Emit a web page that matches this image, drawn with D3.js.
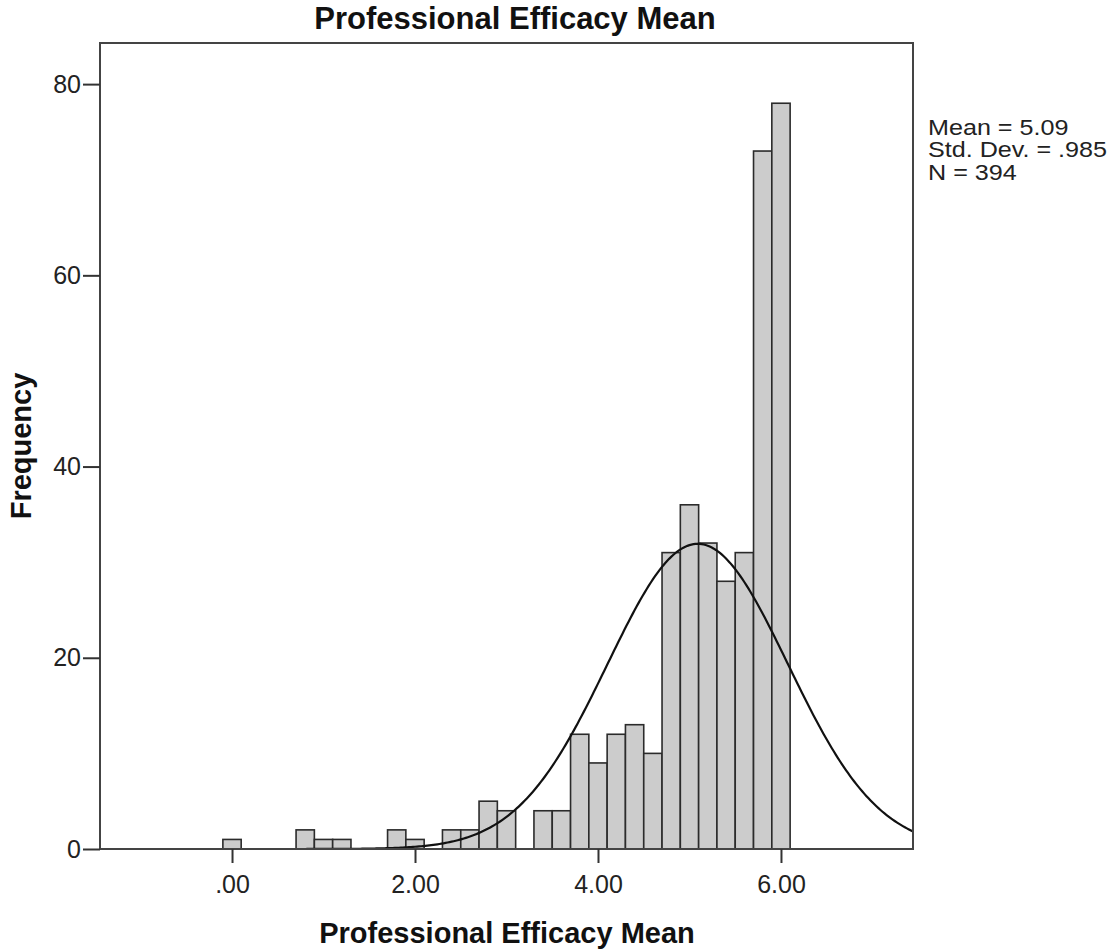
<!DOCTYPE html>
<html>
<head>
<meta charset="utf-8">
<script src="https://cdn.jsdelivr.net/npm/d3@7"></script>
<style>
  html, body { margin: 0; padding: 0; background: #fff; }
  svg { display: block; font-family: "Liberation Sans", Arial, sans-serif; }
</style>
</head>
<body>
<svg id="chart" width="1119" height="951"></svg>
<script>
// ---- Data ----
const binCenters = [0.0, 0.8, 1.0, 1.2, 1.8, 2.0, 2.4, 2.6, 2.8, 3.0, 3.4, 3.6, 3.8, 4.0, 4.2, 4.4, 4.6, 4.8, 5.0, 5.2, 5.4, 5.6, 5.8, 6.0];
const counts     = [1,   2,   1,   1,   2,   1,   2,   2,   5,   4,   4,   4,   12,  9,   12,  13,  10,  31,  36,  32,  28,  31,  73,  78];
const binWidth = 0.2;
const xTickValues = [0, 2, 4, 6];
const xTickLabels = [".00", "2.00", "4.00", "6.00"];
const yTickValues = [0, 20, 40, 60, 80];
const statLabels = ["Mean = 5.09", "Std. Dev. = .985", "N = 394"];
const mean = 5.09, sd = 0.985, n = 394;
const titleText = "Professional Efficacy Mean";
const xLabelText = "Professional Efficacy Mean";
const yLabelText = "Frequency";

// ---- Layout ----
const L = 100, T = 43, R = 913, B = 849;
const svg = d3.select("#chart");

const x = d3.scaleLinear().domain([-1.443, 7.443]).range([L, R]);
const y = d3.scaleLinear().domain([0, 84.3]).range([B, T]);

// bars
const bins = binCenters.map((c, i) => ({ x0: c - binWidth / 2, x1: c + binWidth / 2, v: counts[i] }));
svg.append("g").selectAll("rect").data(bins).join("rect")
  .attr("x", d => x(d.x0))
  .attr("y", d => y(d.v))
  .attr("width", d => x(d.x1) - x(d.x0))
  .attr("height", d => y(0) - y(d.v))
  .attr("fill", "#cccccc")
  .attr("stroke", "#2b2b2b")
  .attr("stroke-width", 1.6);

// normal curve
const pts = d3.range(0, 401).map(i => {
  const xv = x.domain()[0] + (x.domain()[1] - x.domain()[0]) * i / 400;
  const z = (xv - mean) / sd;
  return [xv, n * binWidth * Math.exp(-0.5 * z * z) / (sd * Math.sqrt(2 * Math.PI))];
});
svg.append("path")
  .datum(pts)
  .attr("fill", "none")
  .attr("stroke", "#111")
  .attr("stroke-width", 2.2)
  .attr("d", d3.line().x(d => x(d[0])).y(d => y(d[1])));

// frame
svg.append("rect")
  .attr("x", L).attr("y", T).attr("width", R - L).attr("height", B - T)
  .attr("fill", "none").attr("stroke", "#444").attr("stroke-width", 2);

// axes
const xAxis = d3.axisBottom(x).tickValues(xTickValues)
  .tickFormat((d, i) => xTickLabels[i]).tickSize(14).tickPadding(12);
const gx = svg.append("g").attr("transform", `translate(0,${B})`).call(xAxis);
gx.select(".domain").remove();
gx.selectAll("line").attr("stroke", "#333").attr("stroke-width", 2);
gx.selectAll("text").attr("font-size", 25).attr("fill", "#222")
  .attr("font-family", "Liberation Sans, Arial, sans-serif");

const yAxis = d3.axisLeft(y).tickValues(yTickValues).tickSize(17).tickPadding(2);
const gy = svg.append("g").attr("transform", `translate(${L},0)`).call(yAxis);
gy.select(".domain").remove();
gy.selectAll("line").attr("stroke", "#333").attr("stroke-width", 2);
gy.selectAll("text").attr("font-size", 25).attr("fill", "#222")
  .attr("font-family", "Liberation Sans, Arial, sans-serif");

// title & labels
svg.append("text").attr("x", 515).attr("y", 29).attr("text-anchor", "middle")
  .attr("font-size", 31).attr("font-weight", "bold").attr("fill", "#111").text(titleText);
svg.append("text").attr("x", 507).attr("y", 943).attr("text-anchor", "middle")
  .attr("font-size", 29).attr("font-weight", "bold").attr("fill", "#111").text(xLabelText);
svg.append("text").attr("transform", "translate(31,446) rotate(-90)").attr("text-anchor", "middle")
  .attr("font-size", 29).attr("font-weight", "bold").attr("fill", "#111").text(yLabelText);

// stats (slightly stretched horizontally, like the reference)
svg.append("g").attr("transform", "translate(928,0) scale(1.17,1)")
  .selectAll("text").data(statLabels).join("text")
  .attr("x", 0).attr("y", (d, i) => 135 + i * 22.5)
  .attr("font-size", 21.5).attr("fill", "#222").text(d => d);
</script>
</body>
</html>
